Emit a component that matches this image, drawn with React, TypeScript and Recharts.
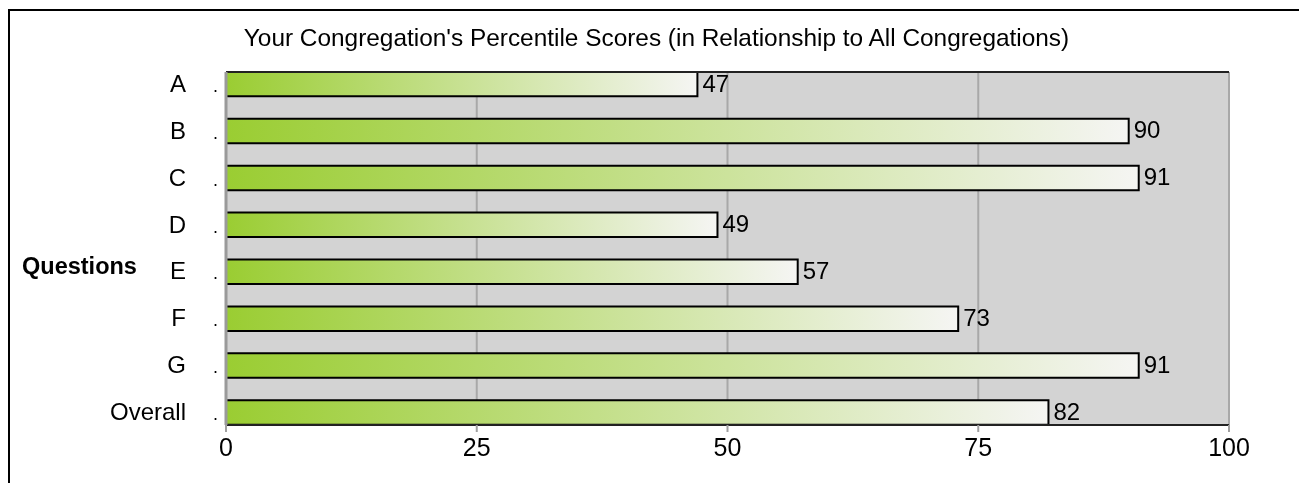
import React from 'react';
import { BarChart, Bar, XAxis, YAxis, CartesianGrid, ReferenceLine, LabelList } from 'recharts';

const categories = ['A', 'B', 'C', 'D', 'E', 'F', 'G', 'Overall'];
const scores = [47, 90, 91, 49, 57, 73, 91, 82];
const xTicks = [0, 25, 50, 75, 100];
const title = "Your Congregation's Percentile Scores (in Relationship to All Congregations)";
const axisTitle = 'Questions';

const data = categories.map((name, idx) => ({ idx, name, score: scores[idx] }));

const FONT = '"Liberation Sans", Arial, sans-serif';
const HALF = 0.261;

const YTick = (props: any) => {
  const { x, y, payload } = props;
  const name = categories[payload.value] ?? '';
  return (
    <g>
      <text x={x - 40} y={y + 7.5} textAnchor="end" fontSize={24} fontFamily={FONT} fill="#000">{name}</text>
      <text x={x - 8} y={y + 7.5} textAnchor="end" fontSize={18} fontFamily={FONT} fill="#000">.</text>
    </g>
  );
};

const XTick = (props: any) => {
  const { x, y, payload } = props;
  return (
    <text x={x} y={y + 22} textAnchor="middle" fontSize={25} fontFamily={FONT} fill="#000">{payload.value}</text>
  );
};

const ValueLabel = (props: any) => {
  const { x, y, width, height, value } = props;
  return (
    <text x={x + width + 5} y={y + height / 2 + 7.5} textAnchor="start" fontSize={24} fontFamily={FONT} fill="#000">{value}</text>
  );
};

export default function App() {
  return (
    <div>
      <div style={{ position: 'fixed', left: 8, top: 9, width: 1291, height: 474, borderLeft: '2px solid #000', borderTop: '2px solid #000', boxSizing: 'border-box' }} />
      <div style={{ position: 'fixed', left: 0, top: 0 }}>
        <BarChart width={1299} height={483} data={data} layout="vertical" margin={{ top: 72, right: 70, bottom: 18, left: 26 }}>
          <CartesianGrid horizontal={false} vertical stroke="#a8a8a8" strokeWidth={2} fill="#d3d3d3" />
          <XAxis type="number" domain={[0, 100]} ticks={xTicks} height={40} axisLine={{ stroke: '#222', strokeWidth: 2 }} tickLine={{ stroke: '#a0a0a0', strokeWidth: 2 }} tickSize={7} tickMargin={2} tick={<XTick />} interval={0} />
          <YAxis type="number" dataKey="idx" domain={[-HALF, 7 + HALF]} allowDataOverflow ticks={[0, 1, 2, 3, 4, 5, 6, 7]} interval={0} width={200} tickLine={false} tickSize={0} tickMargin={0} axisLine={{ stroke: '#9a9a9a', strokeWidth: 3 }} tick={<YTick />}
            label={(p: any) => {
              const vb = p.viewBox || { x: 26, y: 72, height: 353 };
              return <text x={vb.x - 4} y={vb.y + vb.height / 2 + 25.5} fontSize={23.5} fontWeight="bold" fontFamily={FONT} fill="#000">{axisTitle}</text>;
            }} />
          <ReferenceLine y={-HALF} stroke="#222" strokeWidth={2} ifOverflow="visible" />
          <Bar dataKey="score" barSize={24.5} fill="url(#barGrad)" stroke="#000" strokeWidth={2} isAnimationActive={false}>
            <LabelList dataKey="score" content={<ValueLabel />} />
          </Bar>
        </BarChart>
      </div>
      <svg width={1299} height={60} style={{ position: 'fixed', left: 0, top: 0, pointerEvents: 'none' }}>
        <defs>
          <linearGradient id="barGrad" x1="0" y1="0" x2="1" y2="0">
            <stop offset="0%" stopColor="#9acd32" />
            <stop offset="100%" stopColor="#f5f5f3" />
          </linearGradient>
        </defs>
        <text x={656.5} y={46} textAnchor="middle" fontSize={24.4} fontFamily={FONT} fill="#000">{title}</text>
      </svg>
    </div>
  );
}
